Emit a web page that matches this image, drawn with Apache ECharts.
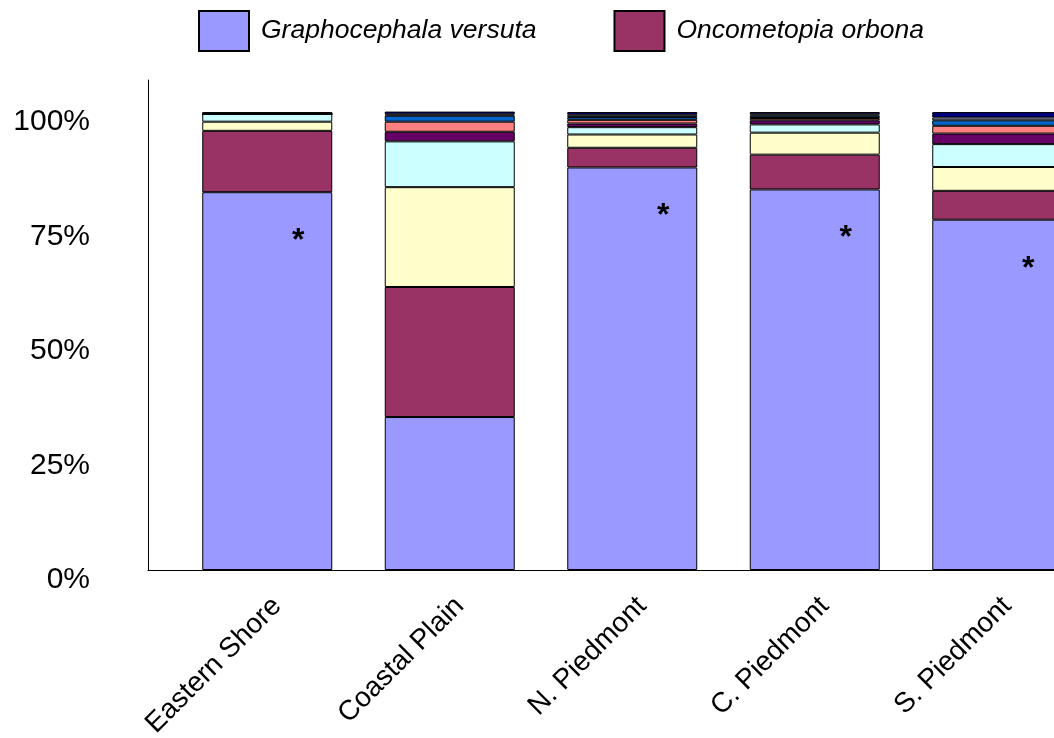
<!DOCTYPE html>
<html><head><meta charset="utf-8">
<script src="https://cdn.jsdelivr.net/npm/echarts@6/dist/echarts.min.js"></script>
<style>html,body{margin:0;padding:0;background:#fff}#c{width:1054px;height:738px}</style>
</head><body><div id="c"></div>
<script>
// ---- data (percent of leafhopper captures per region) ----
const regions = ['Eastern Shore', 'Coastal Plain', 'N. Piedmont', 'C. Piedmont', 'S. Piedmont'];
const graphocephalaVersuta = [82.5, 33.4, 87.9, 83.1, 76.5];
const oncometopiaOrbona    = [13.4, 28.4, 4.3, 7.6, 6.3];
const species3 = [2.0, 21.8, 2.9, 4.8, 5.2];
const species4 = [1.7, 10.0, 1.6, 1.8, 5.0];
const species5 = [0, 2.1, 0.8, 0.9, 2.3];
const species6 = [0, 2.2, 0.8, 0.5, 1.7];
const species7 = [0, 1.3, 0.6, 0.5, 1.2];
const species8 = [0, 0.3, 0.5, 0.3, 0.6];
const species9 = [0.4, 0.6, 0.6, 0.5, 1.2];
const significance = ['*', '', '*', '*', '*'];
const yTicks = [0, 25, 50, 75, 100];

const FONT = 'Arial, "Liberation Sans", Helvetica, sans-serif';
const seriesDefs = [
  ['Graphocephala versuta', graphocephalaVersuta, '#9999FF'],
  ['Oncometopia orbona', oncometopiaOrbona, '#993366'],
  ['Species 3', species3, '#FFFFCC'],
  ['Species 4', species4, '#CCFFFF'],
  ['Species 5', species5, '#660066'],
  ['Species 6', species6, '#FF8080'],
  ['Species 7', species7, '#0066CC'],
  ['Species 8', species8, '#CCCCFF'],
  ['Species 9', species9, '#000080']
];

const series = seriesDefs.map(([name, vals, color], k) => {
  const s = {
    name, type: 'bar', stack: 'total', barWidth: 130,
    xAxisIndex: 1, yAxisIndex: 1,
    data: vals,
    itemStyle: { color, borderColor: '#000', borderWidth: 1 },
    emphasis: { disabled: true }
  };
  if (k === 0) {
    s.label = {
      show: true, position: [96, 49], align: 'center', verticalAlign: 'middle',
      formatter: p => significance[p.dataIndex],
      fontSize: 32, fontWeight: 'bold', color: '#000', fontFamily: FONT
    };
  }
  return s;
});

const chart = echarts.init(document.getElementById('c'), null, { renderer: 'canvas' });
chart.setOption({
  animation: false,
  backgroundColor: '#fff',
  legend: {
    data: ['Graphocephala versuta', 'Oncometopia orbona'],
    left: 193, top: 5, itemWidth: 50, itemHeight: 40, itemGap: 77,
    icon: 'rect',
    textStyle: { fontSize: 26.5, fontStyle: 'italic', color: '#000', fontFamily: FONT, padding: [0, 0, 0, 7] }
  },
  grid: [
    { left: 148, right: 0, top: 80, bottom: 168, containLabel: false, outerBoundsMode: 'none' },
    { left: 176, width: 912.5, top: 80, bottom: 168, containLabel: false, outerBoundsMode: 'none' }
  ],
  xAxis: [
    {
      gridIndex: 0, type: 'value', min: 0, max: 1,
      splitLine: { show: false }, axisTick: { show: false }, axisLabel: { show: false },
      axisLine: { show: true, onZero: false, lineStyle: { color: '#000', width: 1 } }
    },
    {
      gridIndex: 1, type: 'category', data: regions,
      axisLine: { show: false }, axisTick: { show: false }, splitLine: { show: false },
      axisLabel: {
        interval: 0, rotate: 45, align: 'right', verticalAlign: 'top', margin: 22,
        fontSize: 28, color: '#000', fontFamily: FONT
      }
    }
  ],
  yAxis: [
    {
      gridIndex: 0, type: 'value', min: 0, max: 107,
      splitLine: { show: false }, axisTick: { show: false },
      axisLine: { show: true, onZero: false, lineStyle: { color: '#000', width: 1 } },
      axisLabel: {
        customValues: yTicks,
        formatter: v => v + '%',
        fontSize: 30, color: '#000', fontFamily: FONT, margin: 58,
        verticalAlign: 'top', lineHeight: 20
      }
    },
    {
      gridIndex: 1, type: 'value', min: 0, max: 107, show: false
    }
  ],
  series
});
</script></body></html>
